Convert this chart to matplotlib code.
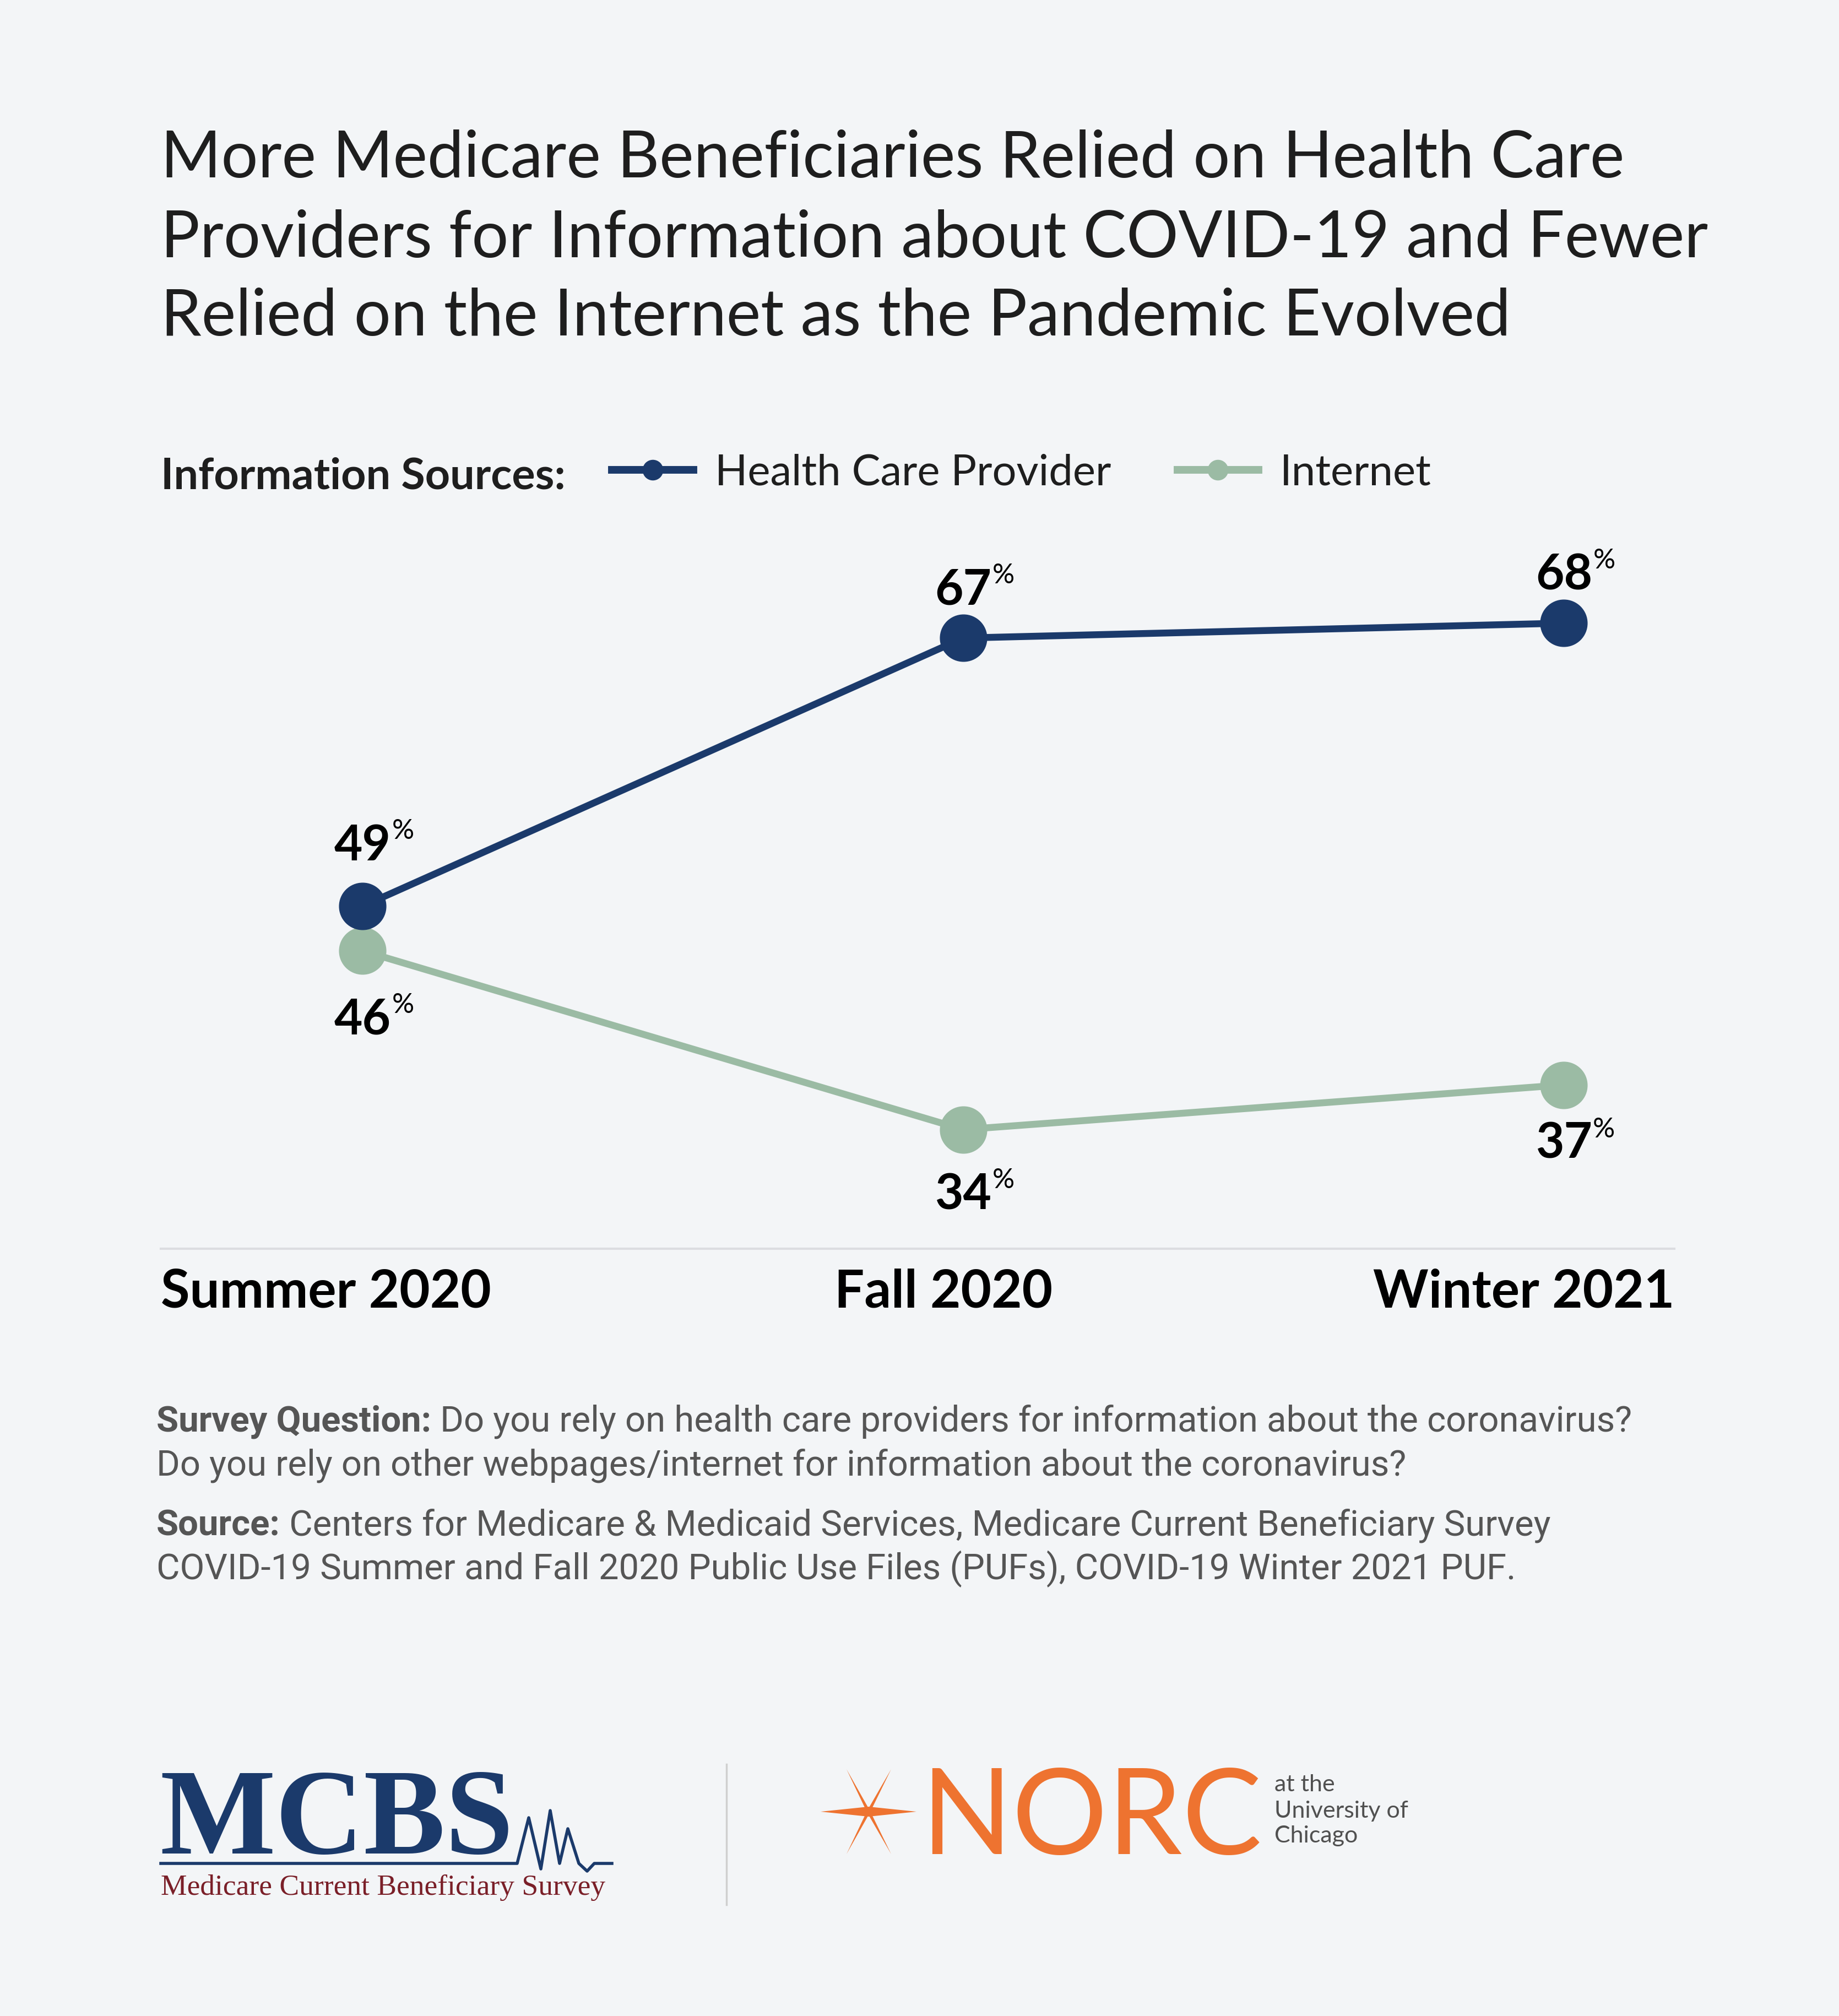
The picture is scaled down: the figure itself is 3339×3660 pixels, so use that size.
import numpy as np
import matplotlib.pyplot as plt
from matplotlib.lines import Line2D
from matplotlib.patches import Polygon

W, H = 3339, 3660
DPI = 100
BG = '#f3f5f7'
NAVY = '#1b3a6b'
GREEN = '#9bbba4'
INK = '#1e1e1e'
GREY = '#555555'

# data
seasons = ['Summer 2020', 'Fall 2020', 'Winter 2021']
provider = [49, 67, 68]
internet = [46, 34, 37]
series_names = ['Health Care Provider', 'Internet']

title_lines = ['More Medicare Beneficiaries Relied on Health Care',
               'Providers for Information about COVID-19 and Fewer',
               'Relied on the Internet as the Pandemic Evolved']
notes = [('Survey Question:', ' Do you rely on health care providers for information about the coronavirus?'),
         (None, 'Do you rely on other webpages/internet for information about the coronavirus?'),
         ('Source:', ' Centers for Medicare & Medicaid Services, Medicare Current Beneficiary Survey'),
         (None, 'COVID-19 Summer and Fall 2020 Public Use Files (PUFs), COVID-19 Winter 2021 PUF.')]


def fx(p):
    return p / W


def fy(p):
    return 1 - p / H


fig = plt.figure(figsize=(W / DPI, H / DPI), dpi=DPI, facecolor=BG)

# title
for line, base in zip(title_lines, [322, 467, 609]):
    fig.text(fx(292), fy(base), line, family='Lato', weight='normal', fontsize=85,
             color=INK, va='baseline', ha='left')

# legend
fig.text(fx(292), fy(887), 'Information Sources:', family='Lato', weight='bold',
         fontsize=57, color=INK, va='baseline', ha='left')
handles = [Line2D([], [], color=NAVY, lw=10, marker='o', ms=26),
           Line2D([], [], color=GREEN, lw=10, marker='o', ms=26)]
leg = fig.legend(handles, series_names, loc='center left', bbox_to_anchor=(fx(1111), fy(859)),
                 ncol=2, frameon=False, borderpad=0, borderaxespad=0, handlelength=1.9,
                 handletextpad=0.5, columnspacing=1.55,
                 prop={'family': 'Lato', 'size': 56})
for t in leg.get_texts():
    t.set_color(INK)

# chart
ax = fig.add_axes([fx(292), fy(2267), fx(3040) - fx(292), 1325 / H])
ax.set_facecolor(BG)
x = np.arange(len(seasons))
ax.plot(x, internet, color=GREEN, lw=9, marker='o', ms=61, zorder=3)
ax.plot(x, provider, color=NAVY, lw=9, marker='o', ms=61, zorder=4)
ax.set_xlim(-0.336, 2.184)
ax.set_ylim(26, 75)
ax.set_xticks([])
ax.set_yticks([])
for s in ['top', 'left', 'right']:
    ax.spines[s].set_visible(False)
ax.spines['bottom'].set_color('#dcdde1')
ax.spines['bottom'].set_linewidth(3)

above = [60, 44, 44]
below = [-109, -104, -96]


def label(i, v, off):
    t = ax.annotate(f'{v}', xy=(i, v), xytext=(0, off), textcoords='offset points',
                    ha='center', va='baseline', family='Lato', weight='bold',
                    fontsize=64, color='black', zorder=5)
    ax.annotate('%', xy=(1, 1), xycoords=t, xytext=(1, 6), textcoords='offset points',
                ha='left', va='top', family='Lato', weight='normal', fontsize=36,
                color='black', zorder=5)


for i, v in enumerate(provider):
    label(i, v, above[i])
for i, v in enumerate(internet):
    label(i, v, below[i])

for s, xf, ha in zip(seasons, [0, 0.517, 1.0], ['left', 'center', 'right']):
    ax.text(xf, -0.06, s, transform=ax.transAxes, ha=ha, va='center',
            family='Lato', weight='bold', fontsize=69, color='black')

# notes
for (bold, rest), base in zip(notes, [2599, 2678, 2788, 2867]):
    if bold:
        b = fig.text(fx(284), fy(base), bold, family='Roboto', weight='bold',
                     fontsize=47, color=GREY, va='baseline', ha='left')
        ax.annotate(rest, xy=(1, 0), xycoords=b, va='bottom', ha='left',
                    family='Roboto', fontsize=47, color=GREY, annotation_clip=False)
    else:
        fig.text(fx(284), fy(base), rest, family='Roboto', fontsize=47,
                 color=GREY, va='baseline', ha='left')

# MCBS logo
fig.text(fx(290), fy(3365), 'MCBS', family='Liberation Serif', weight='bold',
         fontsize=160, color=NAVY, va='baseline', ha='left')
fig.text(fx(292), fy(3440), 'Medicare Current Beneficiary Survey', family='Liberation Serif',
         fontsize=38.5, color='#7a1f28', va='baseline', ha='left')
pulse_x = [292, 939, 960, 982, 999, 1016, 1031, 1051, 1066, 1079, 1111]
pulse_y = [3383, 3383, 3300, 3393, 3287, 3383, 3320, 3383, 3397, 3383, 3383]
fig.add_artist(Line2D([fx(p) for p in pulse_x], [fy(p) for p in pulse_y],
                      color=NAVY, lw=4, transform=fig.transFigure))

# divider
fig.add_artist(Line2D([fx(1319), fx(1319)], [fy(3203), fy(3458)], color='#cfcfcf', lw=2.5,
                      transform=fig.transFigure))

# NORC logo
cx, cy = 1577, 3289
rays = [((1490, 3289), 18), ((1664, 3289), 18),
        ((1537, 3212), 6), ((1618, 3212), 6), ((1537, 3366), 6), ((1618, 3366), 6)]
for (tx, ty), w in rays:
    dx, dy = tx - cx, ty - cy
    n = np.hypot(dx, dy)
    nx, ny = -dy / n * w / 2, dx / n * w / 2
    pts = [(fx(cx + nx), fy(cy + ny)), (fx(tx), fy(ty)), (fx(cx - nx), fy(cy - ny))]
    fig.add_artist(Polygon(pts, closed=True, color='#ee7330', transform=fig.transFigure, lw=0))
fig.text(fx(1672), fy(3366), 'NORC', family='Lato', fontsize=156, color='#ee7330',
         va='baseline', ha='left')
for s, base in zip(['at the', 'University of', 'Chicago'], [3252, 3300, 3345]):
    fig.text(fx(2314), fy(base), s, family='Lato', fontsize=31, color='#505050',
             va='baseline', ha='left')

fig.savefig('out.png', dpi=DPI, facecolor=BG)
